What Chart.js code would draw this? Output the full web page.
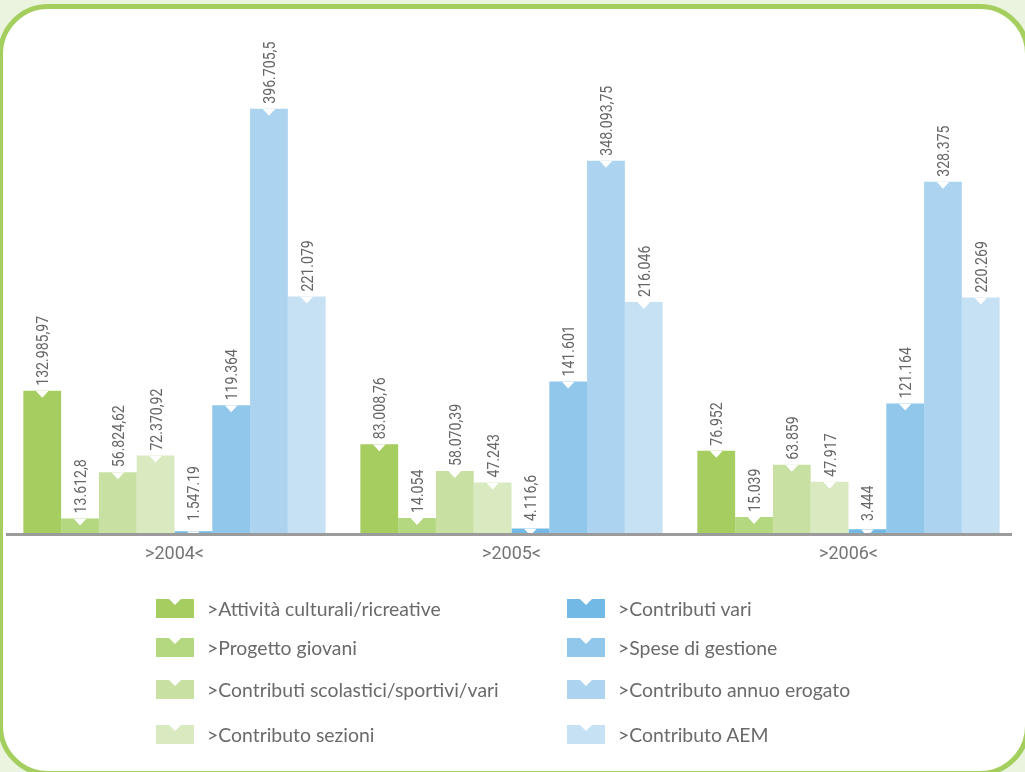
<!DOCTYPE html>
<html><head><meta charset="utf-8">
<script src="https://cdn.jsdelivr.net/npm/chart.js@4/dist/chart.umd.min.js"></script>
<style>
html,body{margin:0;padding:0;width:1025px;height:772px;overflow:hidden;background:#eaf4df;}
#panel{position:absolute;left:-2px;top:4px;width:1032px;height:772px;box-sizing:border-box;border:5px solid #a4cf5f;border-radius:50px;background:#fff;}
#c{position:absolute;left:0;top:0;}
#legend{position:absolute;left:0;top:0;width:1025px;height:772px;pointer-events:none;font-family:Lato,sans-serif;font-size:19.4px;color:#6a6a6a;}
.item{position:absolute;height:19px;display:flex;align-items:center;white-space:nowrap;}
.sw{width:38px;height:19px;position:relative;margin-right:13px;flex:none;}
.sw::after{content:'';position:absolute;left:13px;top:0;border-left:6px solid transparent;border-right:6px solid transparent;border-top:6px solid #fff;}
</style></head>
<body>
<div id="panel"></div>
<canvas id="c" width="1025" height="772"></canvas>
<div id="legend"></div>
<script>
// ---- data ----
const categories = ['>2004<', '>2005<', '>2006<'];
const seriesNames = ['>Attività culturali/ricreative', '>Progetto giovani', '>Contributi scolastici/sportivi/vari', '>Contributo sezioni', '>Contributi vari', '>Spese di gestione', '>Contributo annuo erogato', '>Contributo AEM'];
const attivita = [132985.97, 83008.76, 76952];
const progettoGiovani = [13612.8, 14054, 15039];
const contributiScolastici = [56824.62, 58070.39, 63859];
const contributoSezioni = [72370.92, 47243, 47917];
const contributiVari = [1547.19, 4116.6, 3444];
const speseGestione = [119364, 141601, 121164];
const contributoAnnuo = [396705.5, 348093.75, 328375];
const contributoAEM = [221079, 216046, 220269];
const attivitaLabels = ['132.985,97', '83.008,76', '76.952'];
const progettoGiovaniLabels = ['13.612,8', '14.054', '15.039'];
const contributiScolasticiLabels = ['56.824,62', '58.070,39', '63.859'];
const contributoSezioniLabels = ['72.370,92', '47.243', '47.917'];
const contributiVariLabels = ['1.547.19', '4.116,6', '3.444'];
const speseGestioneLabels = ['119.364', '141.601', '121.164'];
const contributoAnnuoLabels = ['396.705,5', '348.093,75', '328.375'];
const contributoAEMLabels = ['221.079', '216.046', '220.269'];

// ---- styles ----
const colors = ['#a5cd60', '#b4d880', '#c8e1a3', '#d9eac1', '#73b9e5', '#90c7eb', '#acd3ef', '#c7e1f4'];
const values = [attivita, progettoGiovani, contributiScolastici, contributoSezioni, contributiVari, speseGestione, contributoAnnuo, contributoAEM];
const valueLabels = [attivitaLabels, progettoGiovaniLabels, contributiScolasticiLabels, contributoSezioniLabels, contributiVariLabels, speseGestioneLabels, contributoAnnuoLabels, contributoAEMLabels];

const decor = {
  id: 'decor',
  afterDatasetsDraw(chart) {
    const ctx = chart.ctx;
    const area = chart.chartArea;
    // notches
    chart.data.datasets.forEach((ds, i) => {
      const meta = chart.getDatasetMeta(i);
      meta.data.forEach(bar => {
        const left = bar.x - bar.width / 2;
        const top = bar.y, h = bar.base - bar.y;
        ctx.save();
        ctx.beginPath();
        ctx.rect(left, top, bar.width, h);
        ctx.clip();
        ctx.beginPath();
        ctx.moveTo(bar.x - 6.5, top);
        ctx.lineTo(bar.x + 6.5, top);
        ctx.lineTo(bar.x, top + 7);
        ctx.closePath();
        ctx.fillStyle = '#ffffff';
        ctx.fill();
        ctx.restore();
      });
    });
    // axis line
    ctx.save();
    ctx.strokeStyle = '#9b9b9b';
    ctx.lineWidth = 3;
    ctx.beginPath();
    ctx.moveTo(6, area.bottom + 1.5);
    ctx.lineTo(1012, area.bottom + 1.5);
    ctx.stroke();
    ctx.restore();
    // value labels (condensed along the reading direction)
    ctx.save();
    ctx.font = '17px Roboto, sans-serif';
    ctx.fillStyle = '#666666';
    ctx.textAlign = 'left';
    ctx.textBaseline = 'alphabetic';
    chart.data.datasets.forEach((ds, i) => {
      const meta = chart.getDatasetMeta(i);
      meta.data.forEach((bar, j) => {
        const yStart = Math.min(bar.y - 5, bar.base - 12);
        ctx.save();
        ctx.translate(bar.x + 6, yStart);
        ctx.rotate(-Math.PI / 2);
        ctx.scale(0.83, 1);
        ctx.fillText(ds.valueLabels[j], 0, 0);
        ctx.restore();
      });
    });
    ctx.restore();
  }
};

const chart = new Chart(document.getElementById('c'), {
  type: 'bar',
  data: {
    labels: categories,
    datasets: seriesNames.map((n, i) => ({
      label: n,
      data: values[i],
      valueLabels: valueLabels[i],
      backgroundColor: colors[i],
      borderWidth: 0,
      categoryPercentage: 0.897,
      barPercentage: 1
    }))
  },
  options: {
    responsive: false,
    animation: false,
    layout: { padding: { left: 6, right: 8, top: 41, bottom: 0 } },
    plugins: { legend: { display: false }, tooltip: { enabled: false } },
    scales: {
      x: {
        grid: { display: false, drawTicks: false },
        border: { display: false },
        ticks: { padding: 11, color: '#747474', font: { family: 'Roboto, sans-serif', size: 18 } },
        afterFit(s) { s.height = 239; }
      },
      y: { display: false, min: 0, max: 460000 }
    }
  },
  plugins: [decor]
});

// legend (HTML, from the chart's datasets)
const legend = document.getElementById('legend');
const boxLefts = [156, 567];
const rowTops = [599, 638, 680, 725];
chart.data.datasets.forEach((ds, i) => {
  const col = i < 4 ? 0 : 1, row = i % 4;
  const it = document.createElement('div');
  it.className = 'item';
  it.style.left = boxLefts[col] + 'px';
  it.style.top = rowTops[row] + 'px';
  const sw = document.createElement('div');
  sw.className = 'sw';
  sw.style.background = ds.backgroundColor;
  const tx = document.createElement('span');
  tx.textContent = ds.label;
  it.appendChild(sw);
  it.appendChild(tx);
  legend.appendChild(it);
});
</script>
</body></html>
